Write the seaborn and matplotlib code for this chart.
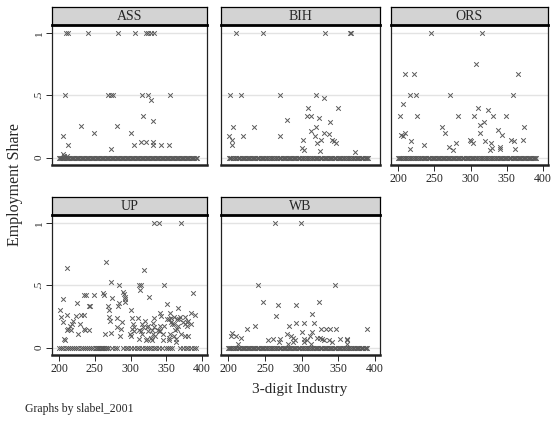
import numpy as np
import pandas as pd
import matplotlib
matplotlib.use("Agg")
import matplotlib.pyplot as plt
import seaborn as sns

# codes d'industrie a part nulle (barre dense a y = 0)
zero_codes = [200, 201, 202, 204, 206, 207, 209, 211, 213, 214, 216, 218, 220, 221,
              223, 225, 227, 228, 230, 232, 234, 235, 237, 239, 241, 242, 244, 246,
              248, 249, 251, 253, 255, 256, 258, 260, 262, 263, 265, 267, 269, 270,
              272, 274, 276, 277, 279, 281, 283, 284, 286, 288, 290, 291, 293, 295,
              297, 298, 300, 302, 304, 305, 307, 309, 311, 312, 314, 316, 318, 319,
              321, 323, 325, 326, 328, 330, 332, 333, 335, 337, 339, 340, 342, 344,
              346, 347, 349, 351, 353, 354, 356, 358, 360, 361, 363, 365, 367, 368,
              370, 372, 374, 375, 377, 379, 381, 382, 384, 386, 388, 389, 391, 393]

# ASS
ass_x = [209, 213, 240, 283, 306, 321, 325, 328, 333,
         208, 269, 272, 275, 316, 325, 355, 328, 317, 331.5, 231, 281, 248.5, 301,
         205.6, 314, 321, 332, 212, 305, 331, 342, 354, 272, 205.6, 207, 211]
ass_y = [1, 1, 1, 1, 1, 1, 1, 1, 1,
         0.5, 0.5, 0.5, 0.5, 0.5, 0.5, 0.5, 0.46, 0.335, 0.29, 0.25, 0.25, 0.2, 0.2,
         0.175, 0.125, 0.125, 0.125, 0.1, 0.1, 0.1, 0.1, 0.1, 0.07, 0.03, 0.015, 0.01]
ass_zero = zero_codes

# BIH
bih_x = [210, 247, 332, 366, 368,
         202, 217, 271, 319, 330.5, 309, 350, 308, 313, 324, 280, 339,
         206.5, 234.5, 320, 313, 331, 337, 318, 200.5, 220, 270,
         204.7, 301.6, 327, 341, 343.6, 321.7, 347, 205, 300, 303, 325, 373.4]
bih_y = [1, 1, 1, 1, 1,
         0.5, 0.5, 0.5, 0.5, 0.48, 0.40, 0.40, 0.335, 0.335, 0.315, 0.30, 0.285,
         0.245, 0.245, 0.245, 0.215, 0.2, 0.19, 0.175, 0.17, 0.17, 0.17,
         0.14, 0.14, 0.14, 0.14, 0.13, 0.113, 0.113, 0.1, 0.073, 0.06, 0.055, 0.045]
bih_zero = zero_codes[1:111]

# ORS
ors_x = [245.6, 316, 308, 209, 221.4, 365,
         216, 224.7, 271, 359, 206.5, 310, 324,
         203, 226, 283, 305, 331.6, 349, 318, 313, 260.5, 374, 337.7,
         265, 312.6, 210, 204, 343, 206.5, 299.5, 356, 372.6,
         217.7, 301, 320.5, 360.5, 328.4, 279.5, 304, 235, 270, 341, 330,
         215.8, 340.5, 361, 276, 326.5]
ors_y = [1, 1, 0.75, 0.67, 0.67, 0.67,
         0.5, 0.5, 0.5, 0.5, 0.43, 0.40, 0.385,
         0.335, 0.335, 0.335, 0.335, 0.335, 0.335, 0.285, 0.263, 0.245, 0.245, 0.22,
         0.2, 0.2, 0.2, 0.185, 0.185, 0.177, 0.14, 0.14, 0.14,
         0.13, 0.13, 0.13, 0.13, 0.12, 0.113, 0.113, 0.1, 0.086, 0.086, 0.08,
         0.07, 0.07, 0.07, 0.06, 0.06]
ors_zero = zero_codes[:111]

# UP
up_x = [332.4, 339.4, 371, 265.7, 210.7, 318.9, 272,
        283.5, 312.4, 314.7, 347, 313.7, 388,
        289.5, 290.5, 291.5, 291.5, 291.5, 261, 235.4, 237.8, 248.5, 262.5, 325.4,
        205.6, 274, 225, 283.5, 350.6, 241.5, 243.4, 268.5, 282, 366.4,
        201.4, 269.5, 300.7, 355, 340.8, 384, 234.5, 231, 210.3, 390.7, 223.3, 343,
        202.8, 270, 369.7, 375.8, 361.3, 280.6, 332.4, 356.2, 301.6, 310.5,
        351, 353.4, 365, 367.8, 271.3, 219.6, 319.8, 380.4,
        205.6, 287.6, 357, 373.9, 378.6, 331,
        218, 229.4, 304, 315.6, 358, 361.3, 384, 376,
        214.5, 324.5, 341.7, 347, 366.4, 378.6,
        281, 305, 317, 323, 332.9,
        212.6, 234.5, 286, 302, 365.5,
        210.7, 215.9, 236.4, 241.5, 312.4, 330, 338.5, 361.8,
        305.4, 314.7, 324.5, 339.4, 340.8, 273.2,
        226.6, 263.9, 299.8, 316, 331.9, 346, 371, 354.8,
        285.8, 300.2, 334.7, 360.8, 376.2, 380.9, 328.6, 353.9,
        207, 311.4, 322.6, 363.6, 208, 321.6, 329.6, 345.5, 353.4, 364]
up_y = [1, 1, 1, 0.69, 0.64, 0.625, 0.53,
        0.5, 0.5, 0.5, 0.5, 0.46, 0.44,
        0.45, 0.43, 0.41, 0.39, 0.365, 0.437, 0.42, 0.42, 0.42, 0.42, 0.41,
        0.39, 0.40, 0.36, 0.36, 0.35, 0.335, 0.335, 0.335, 0.335, 0.315,
        0.30, 0.30, 0.30, 0.28, 0.276, 0.276, 0.265, 0.265, 0.263, 0.263, 0.255, 0.255,
        0.247, 0.247, 0.247, 0.247, 0.247, 0.236, 0.236, 0.236, 0.236, 0.236,
        0.228, 0.228, 0.228, 0.228, 0.217, 0.217, 0.217, 0.217,
        0.204, 0.204, 0.204, 0.204, 0.204, 0.2,
        0.19, 0.19, 0.19, 0.19, 0.19, 0.19, 0.19, 0.19,
        0.177, 0.177, 0.177, 0.177, 0.177, 0.177,
        0.163, 0.163, 0.163, 0.163, 0.163,
        0.15, 0.15, 0.15, 0.15, 0.15,
        0.137, 0.137, 0.137, 0.137, 0.137, 0.137, 0.137, 0.137,
        0.13, 0.13, 0.13, 0.13, 0.13, 0.118,
        0.107, 0.107, 0.107, 0.107, 0.107, 0.107, 0.107, 0.107,
        0.094, 0.094, 0.094, 0.094, 0.094, 0.094, 0.078, 0.078,
        0.07, 0.07, 0.07, 0.07, 0.06, 0.06, 0.06, 0.06, 0.06, 0.048]
up_zero = [200, 203, 206, 209, 212, 215, 218, 221, 224, 227, 230, 233, 236, 239,
           242, 245, 248, 251, 252, 254, 255, 256, 258, 259, 260, 262, 263, 265,
           266, 268, 269, 274, 278, 281, 289, 293, 297, 300, 305, 309, 312, 316,
           320, 323, 326, 329, 333, 336, 340, 344, 349, 352, 355, 358, 369, 373,
           377, 381, 385, 389, 391]

# WB
wb_x = [264.3, 299.3, 240, 345.5, 247, 324, 267.6, 292.8, 314, 264.8,
        293, 303, 317.5, 236, 283, 226, 327, 333, 339, 346.4, 389.3,
        300.7, 313.7, 205, 280, 204, 210, 285, 311.4,
        321, 325, 216.8, 287.6, 261, 271, 303, 328, 353, 361.8,
        254, 290.4, 306.8, 331, 337, 361.3, 269.5, 288, 302.6, 341.3,
        213, 281, 312.8, 362]
wb_y = [1, 1, 0.5, 0.5, 0.365, 0.365, 0.338, 0.338, 0.27, 0.25,
        0.2, 0.2, 0.2, 0.17, 0.17, 0.145, 0.145, 0.145, 0.145, 0.145, 0.145,
        0.123, 0.123, 0.115, 0.105, 0.09, 0.09, 0.09, 0.09,
        0.078, 0.078, 0.078, 0.078, 0.07, 0.07, 0.07, 0.07, 0.07, 0.07,
        0.06, 0.06, 0.06, 0.06, 0.06, 0.06, 0.043, 0.043, 0.043, 0.043,
        0.03, 0.03, 0.03, 0.03]
wb_zero = zero_codes[:110]

states = ["ASS", "BIH", "ORS", "UP", "WB"]
pos_x = {"ASS": ass_x, "BIH": bih_x, "ORS": ors_x, "UP": up_x, "WB": wb_x}
pos_y = {"ASS": ass_y, "BIH": bih_y, "ORS": ors_y, "UP": up_y, "WB": wb_y}
zeros = {"ASS": ass_zero, "BIH": bih_zero, "ORS": ors_zero, "UP": up_zero, "WB": wb_zero}

rows = []
for s in states:
    for x, y in zip(pos_x[s], pos_y[s]):
        rows.append((s, x, y))
    for x in zeros[s]:
        rows.append((s, x, 0.0))
df = pd.DataFrame(rows, columns=["slabel_2001", "nic3", "share"])

sns.set_style("white")
plt.rcParams['font.family'] = ['Liberation Serif', 'DejaVu Serif']

W, H = 551, 424
fig = plt.figure(figsize=(W / 100, H / 100), dpi=100)

# position des panneaux en pixels : gauche, droite, haut (bandeau), bas
panels = {
    "ASS": (52, 207, 7, 25, 165),
    "BIH": (221, 380, 7, 25, 165),
    "ORS": (391, 548, 7, 25, 165),
    "UP": (52, 207, 197, 215, 355),
    "WB": (221, 380, 197, 215, 355),
}
show_y = {"ASS", "UP"}
show_x = {"ORS", "UP", "WB"}

for s in states:
    l, r, ht, t, b = panels[s]
    ax = fig.add_axes([l / W, 1 - b / H, (r - l) / W, (b - t) / H])
    hx = fig.add_axes([l / W, 1 - t / H, (r - l) / W, (t - ht) / H])
    hx.set_facecolor('#d3d3d3')
    hx.set_xticks([])
    hx.set_yticks([])
    for sp in hx.spines.values():
        sp.set_color('black')
        sp.set_linewidth(0.9)
    hx.spines['bottom'].set_linewidth(2)
    hx.text(0.5, 0.45, s, ha='center', va='center', fontsize=10, transform=hx.transAxes)

    for g in [0, 0.5, 1]:
        ax.axhline(g, color='#e3e3e3', lw=1, zorder=0)
    sub = df[df['slabel_2001'] == s]
    sns.scatterplot(data=sub, x='nic3', y='share', ax=ax, marker='x', s=11,
                    color='#5a5a5a', linewidth=0.7, legend=False, zorder=3)
    ax.set_xlim(190, 407)
    ax.set_ylim(-0.06, 1.065)
    ax.set_xlabel('')
    ax.set_ylabel('')
    for sp in ax.spines.values():
        sp.set_color('#222222')
        sp.set_linewidth(0.9)
    ax.spines['bottom'].set_linewidth(1.8)
    ax.spines['top'].set_visible(False)
    if s in show_y:
        ax.set_yticks([0, 0.5, 1])
        ax.set_yticklabels(['0', '.5', '1'], rotation=90, va='center', fontsize=8)
        ax.tick_params(axis='y', left=True, length=4, width=0.7, pad=2)
    else:
        ax.set_yticks([])
    if s in show_x:
        ax.set_xticks([200, 250, 300, 350, 400])
        ax.tick_params(axis='x', bottom=True, length=4, width=0.7, labelsize=8.5, pad=2)
    else:
        ax.set_xticks([])

fig.text(15 / W, 1 - 185 / H, 'Employment Share', rotation=90, ha='center',
         va='center', fontsize=11.5)
fig.text(300 / W, 1 - 389 / H, '3-digit Industry', ha='center', va='center',
         fontsize=11)
fig.text(25 / W, 1 - 409 / H, 'Graphs by slabel_2001', ha='left', va='center',
         fontsize=8.5)

fig.savefig('out.png', dpi=100)
